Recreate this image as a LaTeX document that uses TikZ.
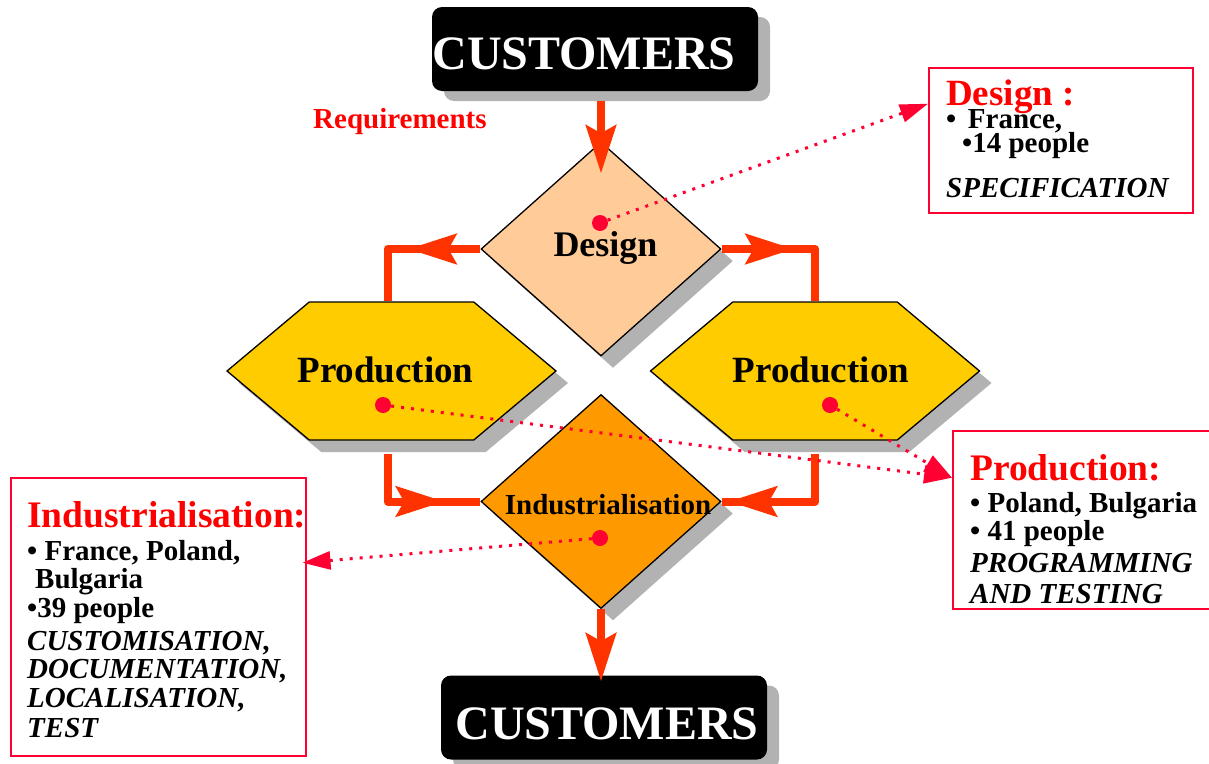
\documentclass[tikz,border=0pt]{standalone}
\usepackage{fontspec}
\setmainfont{Liberation Serif}
\usetikzlibrary{shapes.geometric,shapes.symbols,shadows,arrows.meta,decorations.markings}
\definecolor{connc}{RGB}{255,51,0}
\definecolor{crim}{RGB}{255,0,51}
\definecolor{shgray}{RGB}{178,178,178}
\definecolor{dfill}{RGB}{255,204,153}
\definecolor{pfill}{RGB}{255,204,0}
\definecolor{ifill}{RGB}{255,153,0}
\definecolor{headred}{RGB}{255,0,0}
\begin{document}
\begin{tikzpicture}[x=1pt,y=-1pt,
  shad/.style={drop shadow={shadow xshift=12pt,shadow yshift=-12pt,fill=shgray,opacity=1}},
  custbox/.style={rectangle,rounded corners=10pt,fill=black,minimum width=326pt,minimum height=84pt,inner sep=0pt,
     drop shadow={shadow xshift=12pt,shadow yshift=-10pt,fill=shgray,opacity=1}},
  ctext/.style={text=white,font=\fontsize{48}{50}\selectfont\bfseries},
  diam/.style={diamond,draw=black,line width=1.3pt,minimum width=240pt,minimum height=214pt,inner sep=0pt,shad},
  hexa/.style={signal,signal to=east and west,signal pointer angle=80,draw=black,line width=1.3pt,fill=pfill,
     minimum width=329pt,minimum height=138pt,inner sep=0pt,shad},
  ptext/.style={font=\fontsize{37}{40}\selectfont\bfseries},
  conn/.style={draw=connc,line width=8pt,line join=round},
  bighead/.style={-{Stealth[length=48pt,width=30pt,inset=8pt]}},
  mhead/.style={postaction={decorate},decoration={markings,mark=at position #1 with {\arrow{Stealth[length=48pt,width=30pt,inset=8pt]}}}},
  callout/.style={rectangle,draw=crim,line width=1.5pt,anchor=north west,inner sep=0pt},
  head/.style={anchor=base west,inner sep=0pt,text=headred,font=\fontsize{37.5}{40}\selectfont\bfseries},
  body/.style={anchor=base west,inner sep=0pt,font=\fontsize{29}{30}\selectfont\bfseries},
  bodyit/.style={anchor=base west,inner sep=0pt,font=\fontsize{29}{30}\selectfont\bfseries\itshape},
  reddot/.style={circle,fill=crim,minimum size=16pt,inner sep=0pt},
  dotc/.style={draw=crim,line width=3pt,dash pattern=on 3pt off 7pt,-{Triangle[length=28pt,width=18pt]}}
]
\useasboundingbox (0,0) rectangle (1209,763);

% customers
\node[custbox,label={[ctext,xshift=-11pt,yshift=-4.5pt]center:CUSTOMERS}] (ct) at (595,49) {};
\node[custbox,label={[ctext,xshift=3pt,yshift=-6pt]center:CUSTOMERS}] (cb) at (604,717.5) {};

% diamonds and hexagons
\node[diam,fill=dfill,label={[font=\fontsize{36}{40}\selectfont\bfseries,xshift=4.5pt,yshift=1.5pt]center:Design}] (design) at (601,249) {};
\node[diam,fill=ifill,label={[font=\fontsize{29}{32}\selectfont\bfseries,xshift=7pt,yshift=-3pt]center:Industrialisation}] (ind) at (601,501.5) {};
\node[hexa,label={[ptext,xshift=-6pt,yshift=1pt]center:Production}] (lprod) at (391.5,371) {};
\node[hexa,label={[ptext,xshift=6pt,yshift=1pt]center:Production}] (rprod) at (815,371) {};

% orange connectors
\draw[conn,bighead,shorten <=10pt,shorten >=-32pt] (design.north |- ct.south) -- (design.north);
\draw[conn,mhead=72pt] (design.west) -| ([xshift=-4pt]lprod.north);
\draw[conn,mhead=72pt] (design.east) -| (rprod.north);
\draw[conn,mhead=104.5pt] ([xshift=-4pt,yshift=-13pt]lprod.south) |- (ind.west);
\draw[conn,mhead=134pt] ([yshift=-13pt]rprod.south) |- (ind.east);
\draw[conn,bighead,shorten >=-6pt] (ind.south) -- (ind.south |- cb.north);

% requirements label
\node[anchor=base west,inner sep=0pt,text=headred,font=\fontsize{29}{30}\selectfont\bfseries] (req) at (313,128) {Requirements};

% callout boxes
\node[callout,minimum width=264pt,minimum height=145pt] (dbox) at (928,67) {};
\node[head,font=\fontsize{37}{38}\selectfont\bfseries] (dh) at (946,105) {Design :};
\node[body] (d1) at (946,128) {•\hspace{0.4em}France,};
\node[body] (d2) at (962,152) {•14 people};
\node[bodyit] (d3) at (946,197) {SPECIFICATION};

\node[callout,minimum width=270pt,minimum height=178pt] (pbox) at (952,430) {};
\node[head] (ph) at (970,480) {Production:};
\node[body] (p1) at (970,512) {• Poland, Bulgaria};
\node[body] (p2) at (970,540) {• 41 people};
\node[bodyit] (p3) at (970,572) {PROGRAMMING};
\node[bodyit] (p4) at (970,603) {AND TESTING};

\node[callout,minimum width=295pt,minimum height=278pt] (ibox) at (10,477) {};
\node[head] (ih) at (27,527) {Industrialisation:};
\node[body] (i1) at (27,560) {• France, Poland,};
\node[body] (i2) at (35,588) {Bulgaria};
\node[body] (i3) at (27,617) {•39 people};
\node[bodyit] (i4) at (27,650) {CUSTOMISATION,};
\node[bodyit] (i5) at (27,678) {DOCUMENTATION,};
\node[bodyit] (i6) at (27,707) {LOCALISATION,};
\node[bodyit] (i7) at (27,737) {TEST};

% red dots
\node[reddot] (ddot) at (600,223) {};
\node[reddot] (ldot) at (383,405) {};
\node[reddot] (rdot) at (830,405) {};
\node[reddot] (idot) at (600,538) {};

% dotted connectors
\draw[dotc] (ddot) -- ([yshift=36.5pt]dbox.west);
\draw[dotc] (ldot) -- ([yshift=42pt]pbox.west);
\draw[dotc] (rdot) -- ([yshift=42pt]pbox.west);
\draw[dotc] (idot) -- ([xshift=-4pt,yshift=54pt]ibox.east);
\end{tikzpicture}
\end{document}
